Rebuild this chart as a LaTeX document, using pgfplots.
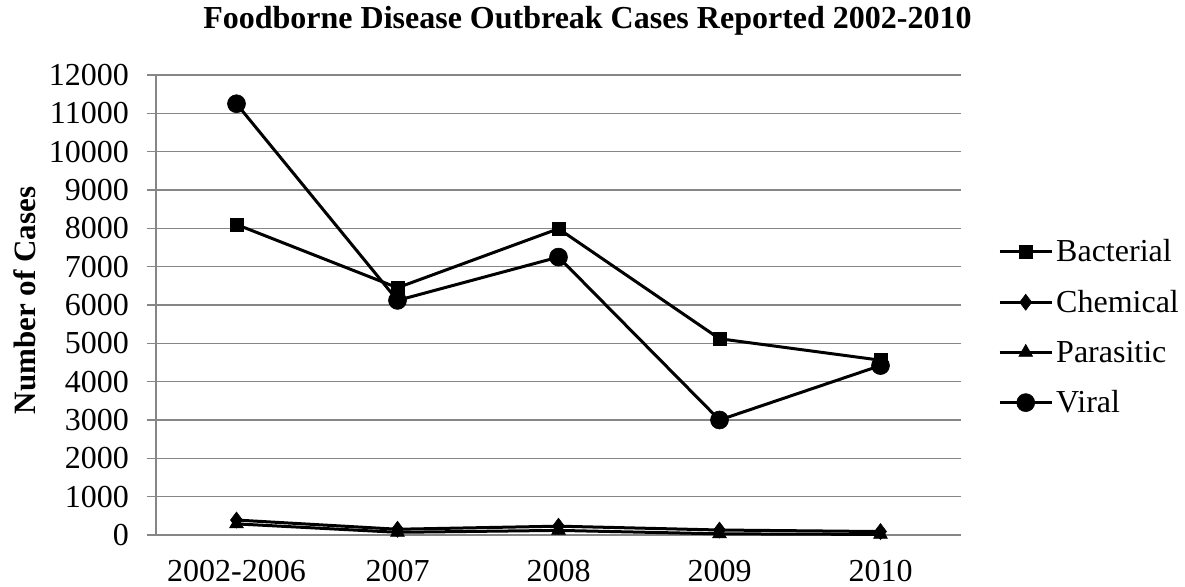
\documentclass[border=0pt]{standalone}
\usepackage{pgfplots}
\pgfplotsset{compat=1.18}
\usepackage{fontspec}
\setmainfont{Liberation Serif}
\definecolor{gridgray}{RGB}{134,134,134}
\newcommand{\bigfont}{\fontsize{32}{38}\selectfont}
\begin{document}
\begin{tikzpicture}
\path[use as bounding box] (0pt,0pt) rectangle (1185pt,586pt);
\begin{axis}[
  at={(156pt,51pt)}, anchor=south west,
  scale only axis, width=805pt, height=460pt,
  xmin=-0.5, xmax=4.5, ymin=0, ymax=12000,
  axis x line*=bottom, axis y line*=left,
  axis line style={-, draw=gridgray, line width=1.3pt},
  ytick={0,1000,...,12000},
  scaled y ticks=false,
  /pgf/number format/assume math mode=true,
  yticklabel style={/pgf/number format/1000 sep={}, anchor=east, inner sep=0pt, xshift=-18pt, font=\bigfont},
  xtick={0,1,2,3,4},
  xticklabels={2002-2006,2007,2008,2009,2010},
  xticklabel style={anchor=north, inner sep=0pt, yshift=-16pt, font=\bigfont},
  major x tick style={draw=none},
  extra x ticks={-0.5,0.5,1.5,2.5,3.5,4.5},
  extra x tick labels={},
  extra x tick style={major tick length=9pt, tick align=outside, tick style={draw=gridgray, line width=1.3pt}},
  tick align=outside,
  major tick length=9pt,
  tick style={draw=gridgray, line width=1.3pt},
  ymajorgrids,
  major grid style={draw=gridgray, line width=1.3pt},
  title={Foodborne Disease Outbreak Cases Reported 2002-2010},
  title style={at={(axis description cs:0.536,1.087)}, anchor=base, font=\bfseries\bigfont},
  ylabel={Number of Cases},
  ylabel style={at={(axis description cs:-0.150,0.51)}, anchor=base, font=\bfseries\fontsize{31}{37}\selectfont},
  legend style={draw=none, fill=none, at={(1.046,0.452)}, anchor=west, inner sep=0pt,
    font=\bigfont, row sep=21pt, nodes={inner sep=3pt}},
  legend cell align=left,
  legend image code/.code={
    \draw[mark repeat=2, mark phase=2] plot coordinates {(0pt,0pt) (26pt,0pt) (52pt,0pt)};
  },
  every axis plot/.append style={black, line width=3pt, mark options={solid, line width=0.6pt}},
]
\addplot[mark=square*, mark size=6.5pt] coordinates {(0,8100) (1,6450) (2,7990) (3,5120) (4,4560)};
\addlegendentry{Bacterial}
\addplot[mark=diamond*, mark size=8pt] coordinates {(0,390) (1,150) (2,230) (3,130) (4,90)};
\addlegendentry{Chemical}
\addplot[mark=triangle*, mark size=8pt] coordinates {(0,290) (1,70) (2,120) (3,30) (4,15)};
\addlegendentry{Parasitic}
\addplot[mark=*, mark size=9pt] coordinates {(0,11250) (1,6120) (2,7250) (3,3000) (4,4420)};
\addlegendentry{Viral}
\end{axis}
\end{tikzpicture}
\end{document}
